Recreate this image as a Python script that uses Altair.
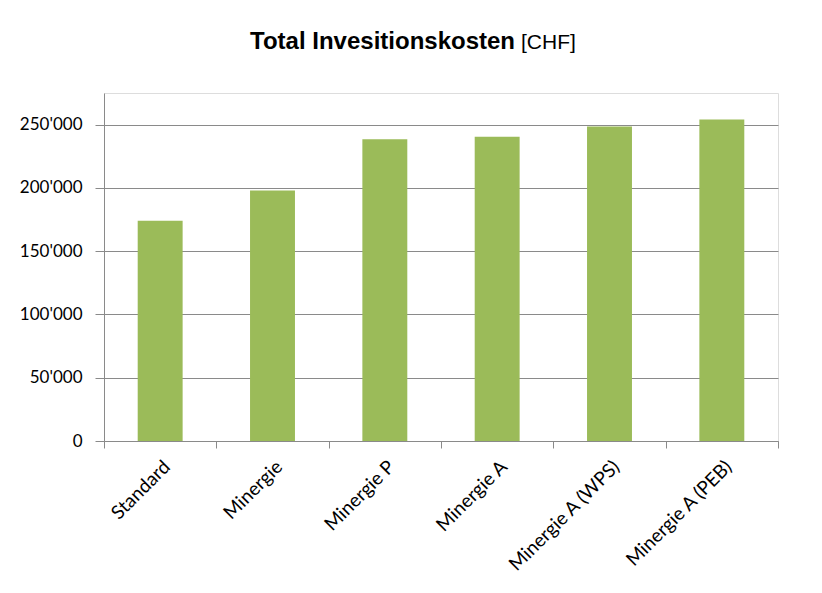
import altair as alt
import pandas as pd

categories = ["Standard", "Minergie", "Minergie P", "Minergie A",
              "Minergie A (WPS)", "Minergie A (PEB)"]
values = [174000, 198000, 238500, 240500, 248500, 254000]
y_ticks = [0, 50000, 100000, 150000, 200000, 250000]
title_main = "Total Invesitionskosten"
title_unit = "[CHF]"

df = pd.DataFrame({"Kategorie": categories, "Kosten": values})

GRID = "#8a8a8a"
LABEL_FONT = "Lato"

bars = alt.Chart(df).mark_bar(
    color="#9BBB59", width=alt.RelativeBandSize(0.4)
).encode(
    x=alt.X(
        "Kategorie:N", sort=categories,
        scale=alt.Scale(paddingInner=0, paddingOuter=0),
        axis=alt.Axis(
            title=None, labelAngle=-45, tickBand="extent", grid=False,
            domainColor=GRID, tickColor=GRID, tickSize=7,
            labelFont=LABEL_FONT, labelFontSize=19, labelColor="#000000",
            labelPadding=9, labelLimit=300,
        ),
    ),
    y=alt.Y(
        "Kosten:Q",
        scale=alt.Scale(domain=[0, 275000], nice=False),
        axis=alt.Axis(
            title=None, values=y_ticks, grid=True, gridColor=GRID,
            gridOpacity=1, domainColor=GRID, tickColor=GRID, tickSize=9,
            labelFont=LABEL_FONT, labelFontSize=17, labelColor="#000000",
            labelPadding=13,
            labelExpr="datum.value == 0 ? '0' : format(datum.value / 1000, 'd') + \"'000\"",
        ),
    ),
)

one = pd.DataFrame({"a": [0]})
t1 = alt.Chart(one).mark_text(
    font="Liberation Sans", fontWeight="bold", fontSize=24,
    align="right", baseline="alphabetic", color="#000000",
).encode(x=alt.value(411), y=alt.value(-44), text=alt.value(title_main))
t2 = alt.Chart(one).mark_text(
    font="Liberation Sans", fontSize=21,
    align="left", baseline="alphabetic", color="#000000",
).encode(x=alt.value(417), y=alt.value(-44), text=alt.value(title_unit))

chart = alt.layer(bars, t1, t2).properties(
    width=674, height=348,
    autosize=alt.AutoSizeParams(type="none"),
    padding={"left": 96, "top": 85, "right": 36, "bottom": 140},
).configure_view(stroke=None).configure(background="#ffffff")

chart.save("out.html", embed_options={"renderer": "svg", "actions": False})
